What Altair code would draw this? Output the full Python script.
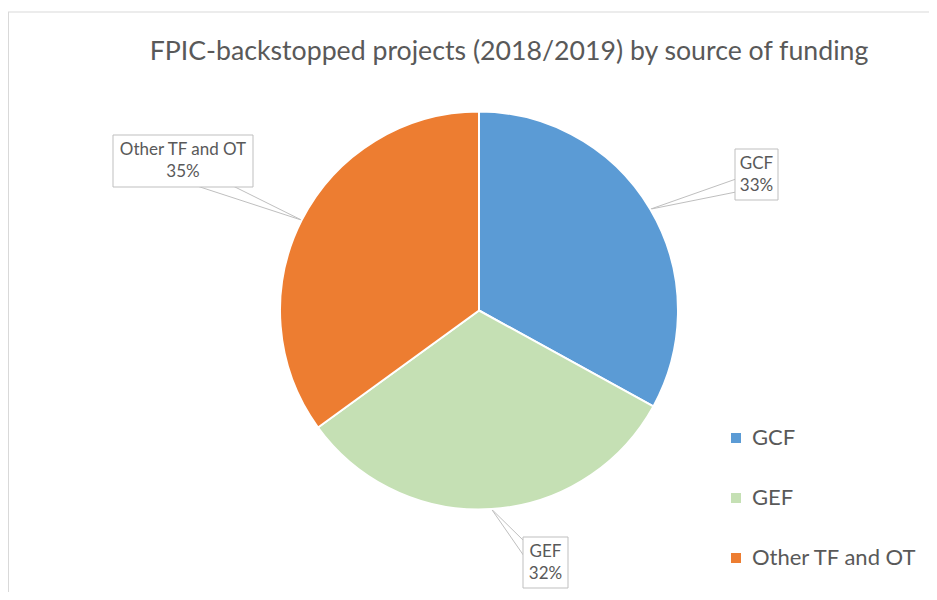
import altair as alt
import pandas as pd

# ---------------- data ----------------
categories = ["GCF", "GEF", "Other TF and OT"]
values = [33, 32, 35]
pct_labels = ["33%", "32%", "35%"]
colors = ["#5B9BD5", "#C5E0B4", "#ED7D31"]
title_text = "FPIC-backstopped projects (2018/2019) by source of funding"

# ---------------- layout (page pixels) ----------------
M = 8                      # page margin
W, H = 921, 584            # whole drawing area
CX, CY, R = 479 - M, 310.5 - M, 199
FONT = "Lato"
TEXT_COLOR = "#595959"
LINE_COLOR = "#BFBFBF"

# callout boxes: x1, x2, y1, y2 (page px)
label_box = {
    "GCF": (735, 778, 149, 200),
    "GEF": (523, 568, 537, 588),
    "Other TF and OT": (113, 253, 135, 187),
}
# two base points of each leader wedge (page px)
label_base = {
    "GCF": ((736, 179), (736, 192)),
    "GEF": ((524, 541), (524, 556)),
    "Other TF and OT": ((197, 186), (233, 186)),
}

pie_df = pd.DataFrame({"category": categories, "value": values,
                       "idx": list(range(len(categories))), "pct": pct_labels})

lab_rows = []
for c in categories:
    x1, x2, y1, y2 = label_box[c]
    (ax1, ay1), (ax2, ay2) = label_base[c]
    lab_rows.append({
        "bx1": x1 - M, "bx2": x2 - M, "by1": y1 - M, "by2": y2 - M,
        "tx": (x1 + x2) / 2 - M, "ty1": (y1 + y2) / 2 - 11 - M,
        "ty2": (y1 + y2) / 2 + 11 - M,
        "ax1": ax1 - M, "ay1": ay1 - M, "ax2": ax2 - M, "ay2": ay2 - M,
    })
lab_df = pd.concat([pie_df, pd.DataFrame(lab_rows)], axis=1)

xs = alt.Scale(domain=[0, W], range=[0, W], zero=False, nice=False)
ys = alt.Scale(domain=[0, H], range=[0, H], zero=False, nice=False)

color_scale = alt.Scale(domain=categories, range=colors)

pie = alt.Chart(pie_df).mark_arc(radius=R, stroke="white", strokeWidth=2).encode(
    theta=alt.Theta("value:Q", stack=True),
    order=alt.Order("idx:Q"),
    color=alt.Color(
        "category:N", scale=color_scale,
        legend=alt.Legend(
            orient="none", legendX=725 - M, legendY=427 - M, title=None,
            symbolType="square", symbolSize=100, symbolStrokeWidth=0,
            labelFont=FONT, labelFontSize=22, labelColor=TEXT_COLOR,
            labelOffset=5, labelLimit=400, rowPadding=38, padding=0,
        ),
    ),
    x=alt.value(CX), y=alt.value(CY),
)

lab_base = alt.Chart(lab_df).transform_window(
    cum="sum(value)", sort=[alt.SortField("idx")]
).transform_joinaggregate(total="sum(value)").transform_calculate(
    ang="2*PI*(datum.cum - datum.value/2)/datum.total",
    ex=f"{CX} + {R}*sin(datum.ang)",
    ey=f"{CY} - {R}*cos(datum.ang)",
)

lead1 = lab_base.mark_rule(color=LINE_COLOR, strokeWidth=1).encode(
    x=alt.X("ex:Q", scale=xs, axis=None), y=alt.Y("ey:Q", scale=ys, axis=None),
    x2="ax1:Q", y2="ay1:Q")
lead2 = lab_base.mark_rule(color=LINE_COLOR, strokeWidth=1).encode(
    x=alt.X("ex:Q", scale=xs, axis=None), y=alt.Y("ey:Q", scale=ys, axis=None),
    x2="ax2:Q", y2="ay2:Q")

boxes = alt.Chart(lab_df).mark_rect(fill="white", stroke=LINE_COLOR, strokeWidth=1).encode(
    x=alt.X("bx1:Q", scale=xs, axis=None), x2="bx2:Q",
    y=alt.Y("by1:Q", scale=ys, axis=None), y2="by2:Q")

txt1 = alt.Chart(lab_df).mark_text(font=FONT, fontSize=17, color=TEXT_COLOR,
                                   baseline="middle", align="center").encode(
    x=alt.X("tx:Q", scale=xs, axis=None), y=alt.Y("ty1:Q", scale=ys, axis=None),
    text="category:N")
txt2 = alt.Chart(lab_df).mark_text(font=FONT, fontSize=17, color=TEXT_COLOR,
                                   baseline="middle", align="center").encode(
    x=alt.X("tx:Q", scale=xs, axis=None), y=alt.Y("ty2:Q", scale=ys, axis=None),
    text="pct:N")

title = alt.Chart(pd.DataFrame({"t": [title_text]})).mark_text(
    font=FONT, fontSize=26.7, color=TEXT_COLOR, align="center", baseline="alphabetic"
).encode(x=alt.value(509 - M), y=alt.value(60 - M), text="t:N")

frame_top = alt.Chart(pd.DataFrame({"a": [0]})).mark_rule(color="#D9D9D9", strokeWidth=1).encode(
    x=alt.value(0), x2=alt.value(W), y=alt.value(12 - M), y2=alt.value(12 - M))
frame_left = alt.Chart(pd.DataFrame({"a": [0]})).mark_rule(color="#D9D9D9", strokeWidth=1).encode(
    x=alt.value(0.5), x2=alt.value(0.5), y=alt.value(12 - M), y2=alt.value(H))

chart = alt.layer(frame_top, frame_left, title, lead1, lead2, pie, boxes, txt1, txt2).properties(
    width=W, height=H, autosize=alt.AutoSizeParams(type="none"), padding=0
).configure_view(stroke=None).resolve_scale(color="independent")

chart.save("out.html", embed_options={"renderer": "svg", "actions": False})
